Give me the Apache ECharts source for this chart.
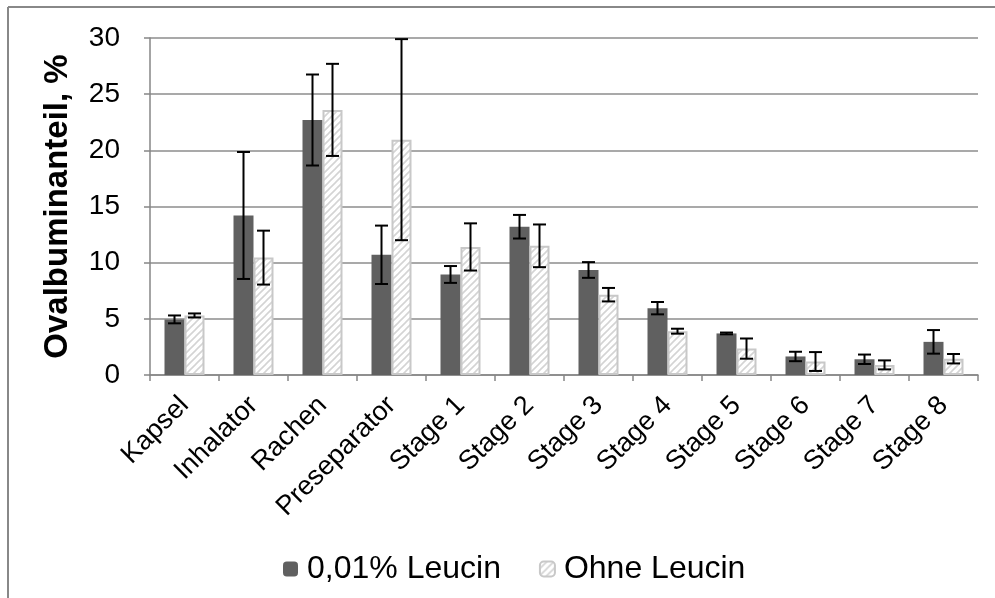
<!DOCTYPE html>
<html>
<head>
<meta charset="utf-8">
<script src="https://cdn.jsdelivr.net/npm/echarts@6/dist/echarts.min.js"></script>
<style>html,body{margin:0;padding:0;background:#fff}#c{width:995px;height:598px}</style>
</head>
<body>
<div id="c"></div>
<script>
const categories = ['Kapsel','Inhalator','Rachen','Preseparator','Stage 1','Stage 2','Stage 3','Stage 4','Stage 5','Stage 6','Stage 7','Stage 8'];
const leucinValues = [4.95, 14.2, 22.7, 10.7, 8.95, 13.2, 9.35, 5.95, 3.7, 1.65, 1.4, 2.95];
const leucinErrors = [0.35, 5.65, 4.05, 2.6, 0.75, 1.05, 0.7, 0.55, 0.08, 0.42, 0.42, 1.05];
const ohneValues = [5.3, 10.45, 23.6, 20.95, 11.4, 11.5, 7.15, 3.9, 2.35, 1.2, 0.9, 1.45];
const ohneErrors = [0.18, 2.4, 4.1, 8.95, 2.1, 1.9, 0.6, 0.22, 0.9, 0.84, 0.4, 0.42];
const yTicks = [0, 5, 10, 15, 20, 25, 30];

const FONT = 'Liberation Sans, Arial, sans-serif';

// hatch pattern
const pc = document.createElement('canvas');
pc.width = 7; pc.height = 7;
const g = pc.getContext('2d');
g.fillStyle = '#ffffff'; g.fillRect(0,0,7,7);
g.strokeStyle = '#d4d4d4'; g.lineWidth = 1.6;
g.beginPath();
g.moveTo(-1, 8); g.lineTo(8, -1);
g.moveTo(-1, 1); g.lineTo(1, -1);
g.moveTo(6, 8); g.lineTo(8, 6);
g.stroke();

function errSeries(vals, errs, offset) {
  return {
    type: 'custom',
    z: 10,
    silent: true,
    data: vals.map((v, i) => [i, v, errs[i]]),
    renderItem: function (params, api) {
      const i = api.value(0), v = api.value(1), e = api.value(2);
      const top = api.coord([i, v + e]);
      const bot = api.coord([i, v - e]);
      const x = top[0] + offset;
      const w = 6.5;
      const st = { stroke: '#000', lineWidth: 2 };
      return {
        type: 'group',
        children: [
          { type: 'line', shape: { x1: x, y1: top[1], x2: x, y2: bot[1] }, style: st },
          { type: 'line', shape: { x1: x - w, y1: top[1], x2: x + w, y2: top[1] }, style: st },
          { type: 'line', shape: { x1: x - w, y1: bot[1], x2: x + w, y2: bot[1] }, style: st }
        ]
      };
    }
  };
}

const chart = echarts.init(document.getElementById('c'), null, { renderer: 'canvas' });
chart.setOption({
  animation: false,
  backgroundColor: '#fff',
  grid: { left: 150, right: 17, top: 38, bottom: 223, containLabel: false },
  legend: {
    left: 278, top: 548,
    itemWidth: 15, itemHeight: 15, itemGap: 38,
    data: ['0,01% Leucin', 'Ohne Leucin'],
    textStyle: { fontFamily: FONT, fontSize: 32, color: '#000', padding: [0, 0, 0, 4] }
  },
  xAxis: {
    type: 'category',
    data: categories,
    axisLine: { lineStyle: { color: '#868686', width: 1.5 } },
    axisTick: { show: true, length: 6, lineStyle: { color: '#868686', width: 1.5 } },
    axisLabel: { rotate: 45, margin: 26, fontFamily: FONT, fontSize: 27, color: '#000', interval: 0 }
  },
  yAxis: {
    type: 'value',
    min: yTicks[0], max: yTicks[yTicks.length - 1], interval: 5,
    name: 'Ovalbuminanteil, %',
    nameLocation: 'middle',
    nameGap: 76,
    nameRotate: 90,
    nameTextStyle: { fontFamily: FONT, fontSize: 33, fontWeight: 'bold', color: '#000' },
    axisLine: { show: true, lineStyle: { color: '#868686', width: 1.5 } },
    axisTick: { show: true, length: 6, lineStyle: { color: '#868686', width: 1.5 } },
    splitLine: { lineStyle: { color: '#8c8c8c', width: 1.5 } },
    axisLabel: { margin: 30, fontFamily: FONT, fontSize: 28, color: '#000' }
  },
  series: [
    {
      name: '0,01% Leucin', type: 'bar', data: leucinValues,
      barWidth: 20, barGap: '0%',
      itemStyle: { color: '#606060' }
    },
    {
      name: 'Ohne Leucin', type: 'bar', data: ohneValues,
      barWidth: 20,
      itemStyle: { color: { image: pc, repeat: 'repeat' }, borderColor: '#c8c8c8', borderWidth: 2 }
    },
    errSeries(leucinValues, leucinErrors, -10),
    errSeries(ohneValues, ohneErrors, 10)
  ],
  graphic: [
    { type: 'line', shape: { x1: 8, y1: 7, x2: 995, y2: 7 }, style: { stroke: '#888', lineWidth: 2 } },
    { type: 'line', shape: { x1: 8, y1: 7, x2: 8, y2: 598 }, style: { stroke: '#888', lineWidth: 2 } }
  ]
});
</script>
</body>
</html>
